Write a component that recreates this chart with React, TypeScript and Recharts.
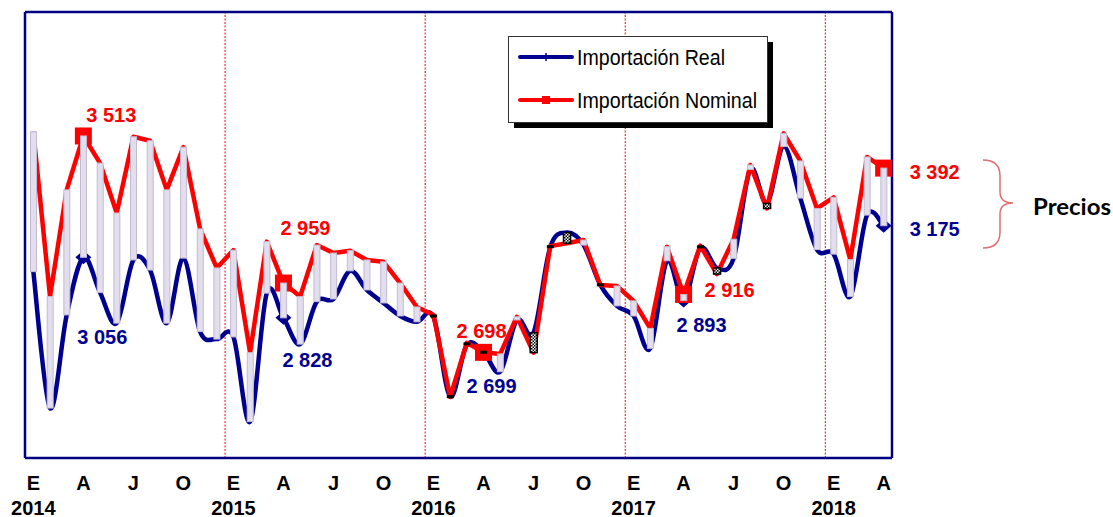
import React from 'react';
import {
  ComposedChart,
  Line,
  Bar,
  XAxis,
  YAxis,
  ReferenceLine,
  Legend,
} from 'recharts';

// ---------- data ----------
const years = [2014, 2015, 2016, 2017, 2018];
const monthLetters = ['E', 'F', 'M', 'A', 'M', 'J', 'J', 'A', 'S', 'O', 'N', 'D'];

// Importación Nominal (monthly, Jan 2014 – Apr 2018)
const nominal = [
  3529, 2908, 3310, 3513, 3411, 3223, 3510, 3495, 3310, 3471, 3163, 3016,
  3083, 2697, 3115, 2959, 2908, 3102, 3072, 3081, 3046, 3039, 2959, 2869,
  2839, 2530, 2734, 2698, 2692, 2832, 2697, 3098, 3109, 3121, 2952, 2948,
  2892, 2788, 3096, 2916, 3100, 2993, 3124, 3404, 3240, 3523, 3419, 3240,
  3282, 3047, 3434, 3392,
];

// Importación Real
const real = [
  3002, 2488, 2839, 3056, 2923, 2808, 3046, 3008, 2808, 3053, 2776, 2748,
  2756, 2437, 2921, 2828, 2729, 2889, 2899, 3005, 2933, 2884, 2835, 2813,
  2831, 2532, 2726, 2699, 2625, 2820, 2772, 3094, 3149, 3102, 2953, 2873,
  2835, 2713, 3043, 2893, 3091, 3016, 3052, 3387, 3259, 3473, 3279, 3085,
  3068, 2908, 3215, 3175,
];

const highlighted = [3, 15, 27, 39, 51];
const yDomain = [2300, 3980];

// ---------- styles ----------
const BLUE = '#000090';
const RED = '#ff0000';
const FRAME = '#000080';
const FONT = "'Liberation Sans', Arial, sans-serif";
const nomLabelOffsets = [[28, -21], [22, -55], [-2, -22], [46, -5], [51, 4]];
const realLabelOffsets = [[19, 79], [24, 42], [8, 34], [18, 24], [51, 3]];

const data = nominal.map((n, i) => ({
  key: `${years[Math.floor(i / 12)]}-${(i % 12) + 1}`,
  month: monthLetters[i % 12],
  year: years[Math.floor(i / 12)],
  nominal: n,
  real: real[i],
  range: [Math.min(n, real[i]), Math.max(n, real[i])],
}));
const keyIndex: Record<string, number> = {};
data.forEach((d, i) => (keyIndex[d.key] = i));
const yearStarts = data.filter((_, i) => i > 0 && i % 12 === 0).map((d) => d.key);

const fmt = (v: number) => `${Math.floor(v / 1000)} ${String(v % 1000).padStart(3, '0')}`;

// Excel-like smoothed line (Catmull-Rom through points)
const excelSmooth = (context: any) => {
  let pts: number[][] = [];
  return {
    areaStart() {},
    areaEnd() {},
    lineStart() {
      pts = [];
    },
    point(x: number, y: number) {
      pts.push([+x, +y]);
    },
    lineEnd() {
      const n = pts.length;
      if (!n) return;
      context.moveTo(pts[0][0], pts[0][1]);
      for (let i = 0; i < n - 1; i++) {
        const p0 = pts[Math.max(i - 1, 0)];
        const p1 = pts[i];
        const p2 = pts[i + 1];
        const p3 = pts[Math.min(i + 2, n - 1)];
        context.bezierCurveTo(
          p1[0] + (p2[0] - p0[0]) / 6,
          p1[1] + (p2[1] - p0[1]) / 6,
          p2[0] - (p3[0] - p1[0]) / 6,
          p2[1] - (p3[1] - p1[1]) / 6,
          p2[0],
          p2[1]
        );
      }
    },
  };
};

const labelStyle = {
  fontFamily: FONT,
  fontWeight: 700,
  fontSize: 20,
};

const realDot = (p: any) => {
  const { cx, cy, index } = p;
  const k = highlighted.indexOf(index);
  if (k < 0 || cx == null) return <g key={`rd${index}`} />;
  const off = realLabelOffsets[k];
  return (
    <g key={`rd${index}`}>
      <polygon
        points={`${cx - 8},${cy} ${cx},${cy - 7} ${cx + 8},${cy} ${cx},${cy + 7}`}
        fill={BLUE}
      />
      <text
        x={cx + off[0]}
        y={cy + off[1]}
        dy="0.36em"
        textAnchor="middle"
        fill={BLUE}
        style={labelStyle}
      >
        {fmt(real[index])}
      </text>
    </g>
  );
};

const nomDot = (p: any) => {
  const { cx, cy, index } = p;
  const k = highlighted.indexOf(index);
  if (k < 0 || cx == null) return <g key={`nd${index}`} />;
  const off = nomLabelOffsets[k];
  return (
    <g key={`nd${index}`}>
      <rect x={cx - 8.5} y={cy - 8.5} width={17} height={17} fill={RED} />
      <text
        x={cx + off[0]}
        y={cy + off[1]}
        dy="0.36em"
        textAnchor="middle"
        fill={RED}
        style={labelStyle}
      >
        {fmt(nominal[index])}
      </text>
    </g>
  );
};

const RangeBar = (p: any) => {
  const { x, y, width, height, index } = p;
  const d = data[index];
  if (x == null || !d) return <g />;
  if (height < 2.5) {
    return <rect x={x} y={y + height / 2 - 1.5} width={width} height={3} fill="#000" />;
  }
  if (d.real > d.nominal) {
    const id = `chk${index}`;
    return (
      <g>
        <defs>
          <pattern id={id} width="3" height="3" patternUnits="userSpaceOnUse">
            <rect width="3" height="3" fill="#fff" />
            <rect width="1.5" height="1.5" fill="#000" />
            <rect x="1.5" y="1.5" width="1.5" height="1.5" fill="#000" />
          </pattern>
        </defs>
        <rect x={x} y={y} width={width} height={height} fill={`url(#${id})`} stroke="#000" strokeWidth={1.5} />
      </g>
    );
  }
  return (
    <rect
      x={x + 0.5}
      y={y}
      width={width - 1}
      height={height}
      fill="#e2deec"
      stroke="#c2bad4"
      strokeWidth={1}
    />
  );
};

const MonthTick = (p: any) => {
  const { x, y, payload } = p;
  const i = keyIndex[payload?.value];
  if (i == null || i % 3 !== 0) return <g />;
  const d = data[i];
  return (
    <g>
      <text x={x} y={y + 32} textAnchor="middle" fill="#000" style={labelStyle}>
        {d.month}
      </text>
      {i % 12 === 0 && (
        <text x={x} y={y + 56.5} textAnchor="middle" fill="#000" style={labelStyle}>
          {d.year}
        </text>
      )}
    </g>
  );
};

const LegendBox = () => (
  <svg width={272} height={96} style={{ display: 'block', overflow: 'visible' }}>
    <rect x={6} y={6} width={259} height={86} fill="#000" />
    <rect x={0.5} y={0.5} width={259} height={86} fill="#fff" stroke="#333" strokeWidth={1} />
    <line x1={12} y1={21} x2={64} y2={21} stroke={BLUE} strokeWidth={4} strokeLinecap="round" />
    <line x1={38} y1={17} x2={38} y2={25} stroke={BLUE} strokeWidth={1.5} />
    <text
      x={69}
      y={29}
      fill="#000"
      textLength={148}
      lengthAdjust="spacingAndGlyphs"
      style={{ fontFamily: FONT, fontSize: 22 }}
    >
      Importación Real
    </text>
    <line x1={12} y1={64} x2={64} y2={64} stroke={RED} strokeWidth={4} strokeLinecap="round" />
    <rect x={34} y={60} width={8} height={8} fill={RED} />
    <text
      x={69}
      y={72}
      fill="#000"
      textLength={180}
      lengthAdjust="spacingAndGlyphs"
      style={{ fontFamily: FONT, fontSize: 22 }}
    >
      Importación Nominal
    </text>
  </svg>
);

const frameLine = { stroke: FRAME, strokeWidth: 2.5 };

export default function App() {
  return (
    <div style={{ position: 'absolute', left: 0, top: 0, width: 1113, height: 517, background: '#fff' }}>
      <ComposedChart
        width={1113}
        height={517}
        data={data}
        margin={{ top: 11, right: 220, bottom: 0, left: 24 }}
      >
        <XAxis
          dataKey="key"
          type="category"
          height={59}
          interval={0}
          tickSize={0}
          tickMargin={0}
          axisLine={frameLine}
          tickLine={false}
          tick={MonthTick}
        />
        <XAxis
          xAxisId="top"
          dataKey="key"
          type="category"
          orientation="top"
          height={1}
          tick={false}
          tickLine={false}
          axisLine={frameLine}
        />
        <YAxis type="number" domain={yDomain} width={1} tick={false} tickLine={false} axisLine={frameLine} />
        <YAxis
          yAxisId="right"
          orientation="right"
          type="number"
          domain={yDomain}
          width={1}
          tick={false}
          tickLine={false}
          axisLine={frameLine}
        />
        {yearStarts.map((k) => (
          <ReferenceLine
            key={k}
            x={k}
            position="start"
            stroke={RED}
            strokeWidth={1}
            strokeDasharray="2 1.5"
          />
        ))}
        <Line
          dataKey="real"
          type={excelSmooth as any}
          stroke={BLUE}
          strokeWidth={4.5}
          dot={realDot}
          activeDot={false}
          isAnimationActive={false}
          legendType="none"
        />
        <Line
          dataKey="nominal"
          type="linear"
          stroke={RED}
          strokeWidth={4.5}
          strokeLinejoin="round"
          dot={nomDot}
          activeDot={false}
          isAnimationActive={false}
          legendType="none"
        />
        <Bar
          dataKey="range"
          barSize={7}
          shape={RangeBar}
          isAnimationActive={false}
          legendType="none"
          {...({ zIndex: 1000 } as any)}
        />
        <Legend
          layout="horizontal"
          verticalAlign="middle"
          align="center"
          content={LegendBox}
          wrapperStyle={{ position: 'absolute', left: 508, top: 36, width: 272, height: 96, margin: 0, padding: 0 }}
        />
      </ComposedChart>
      <svg
        width={1113}
        height={517}
        style={{ position: 'absolute', left: 0, top: 0, pointerEvents: 'none' }}
      >
        <path
          d="M 983 160 Q 1000 160 1000 176 L 1000 192 Q 1000 203 1013 203 Q 1000 203 1000 214 L 1000 232 Q 1000 248 983 248"
          fill="none"
          stroke="#e07070"
          strokeWidth={1.5}
        />
        <text
          x={1033}
          y={215}
          fill="#000"
          textLength={78}
          lengthAdjust="spacingAndGlyphs"
          style={{ fontFamily: "Lato, 'Open Sans', sans-serif", fontWeight: 700, fontSize: 23 }}
        >
          Precios
        </text>
      </svg>
    </div>
  );
}
